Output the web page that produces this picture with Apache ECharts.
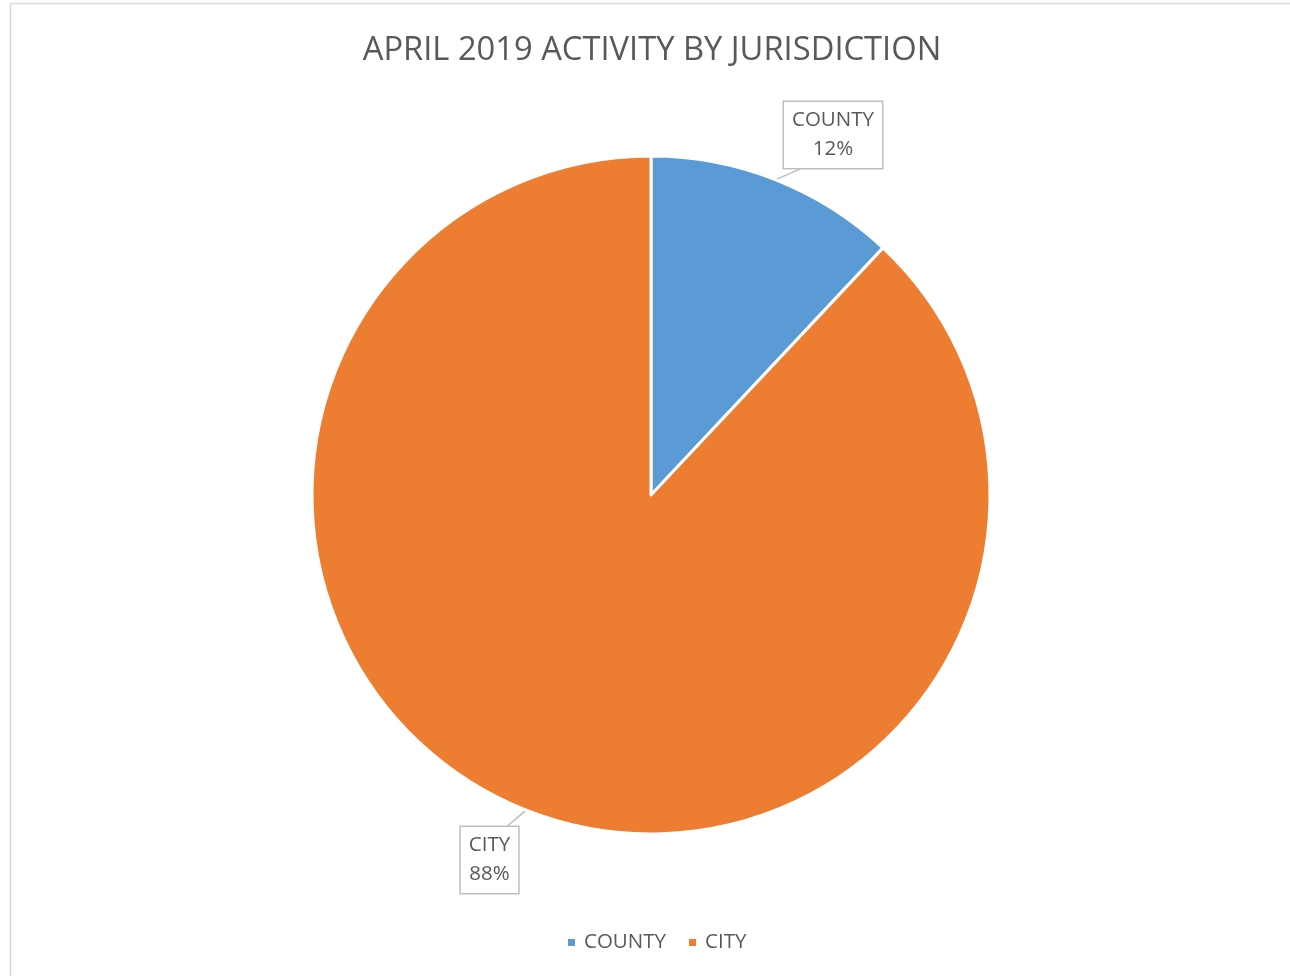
<!DOCTYPE html>
<html>
<head>
<meta charset="utf-8">
<script src="https://cdn.jsdelivr.net/npm/echarts@6/dist/echarts.min.js"></script>
<style>
html,body{margin:0;padding:0;background:#fff;}
#chart{width:1290px;height:976px;}
</style>
</head>
<body>
<div id="chart"></div>
<script>
const titleText = 'APRIL 2019 ACTIVITY BY JURISDICTION';
const categories = ['COUNTY', 'CITY'];
const values = [12, 88];
const colors = ['#5B9BD5', '#ED7D31'];

const labelCenters = [[833, 135], [489.5, 860]];
const labelLineEnds = [[802, 168], [506, 827]];
const FONT = 'Open Sans';

const chart = echarts.init(document.getElementById('chart'), null, {renderer: 'canvas'});
chart.setOption({
  backgroundColor: '#ffffff',
  animation: false,
  color: colors,
  title: {
    text: titleText,
    left: 647,
    textAlign: 'center',
    top: 29,
    textStyle: {fontFamily: FONT, fontSize: 32.7, fontWeight: 'normal', color: '#595959'}
  },
  graphic: [{
    type: 'rect',
    shape: {x: 10.5, y: 3.5, width: 1400, height: 1100},
    style: {fill: 'none', stroke: '#d9d9d9', lineWidth: 1.5},
    silent: true, z: -1
  }],
  legend: {
    data: categories,
    left: 561,
    top: 927,
    icon: 'rect',
    itemWidth: 9,
    itemHeight: 9,
    itemGap: 21,
    textStyle: {fontFamily: FONT, fontSize: 20.5, color: '#595959', padding: [0, 0, 0, 3]}
  },
  series: [{
    type: 'pie',
    center: [651, 495],
    radius: [0, 339],
    startAngle: 90,
    clockwise: true,
    itemStyle: {borderColor: '#ffffff', borderWidth: 3},
    label: {
      show: true,
      position: 'outside',
      formatter: '{b}\n{d}%',
      fontFamily: FONT,
      fontSize: 20.5,
      lineHeight: 29,
      color: '#595959',
      align: 'center',
      backgroundColor: '#ffffff',
      borderColor: '#bfbfbf',
      borderWidth: 1.5,
      padding: [4, 8, 4, 8]
    },
    labelLine: {show: true, length: 10, length2: 10, lineStyle: {color: '#bfbfbf', width: 1.5}},
    labelLayout: function (params) {
      const i = params.dataIndex;
      const c = labelCenters[i];
      const p0 = params.labelLinePoints[0];
      const e = labelLineEnds[i];
      return {
        x: c[0], y: c[1], align: 'center', verticalAlign: 'middle',
        labelLinePoints: [[p0[0], p0[1]], [(p0[0] + e[0]) / 2, (p0[1] + e[1]) / 2], [e[0], e[1]]]
      };
    },
    data: categories.map((n, i) => ({name: n, value: values[i]}))
  }]
});
</script>
</body>
</html>
